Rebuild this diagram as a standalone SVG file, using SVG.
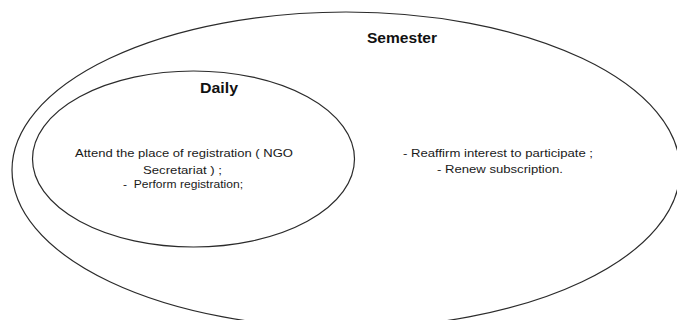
<svg xmlns="http://www.w3.org/2000/svg" width="677" height="320" viewBox="0 0 677 320">
  <style>
    .set { fill: none; stroke: #2b2b2b; stroke-width: 1.2; }
    .title { font-family: "Liberation Sans", Arial, sans-serif; font-weight: bold; font-size: 15px; fill: #111; text-anchor: middle; }
    .body { font-family: "Liberation Sans", Arial, sans-serif; font-size: 11px; fill: #1a1a1a; text-anchor: middle; }
  </style>
  <rect width="677" height="320" fill="#ffffff"/>

  <!-- outer set: semester tasks -->
  <g id="semester">
    <ellipse class="set" cx="346" cy="170" rx="334" ry="158"/>
    <text class="title" x="402" y="43" textLength="70" lengthAdjust="spacingAndGlyphs">Semester</text>
    <text class="body" x="498" y="157" textLength="190" lengthAdjust="spacingAndGlyphs">- Reaffirm interest to participate ;</text>
    <text class="body" x="500" y="173" textLength="126" lengthAdjust="spacingAndGlyphs">- Renew subscription.</text>
  </g>

  <!-- inner set: daily tasks -->
  <g id="daily">
    <ellipse class="set" cx="193.5" cy="159" rx="161" ry="88"/>
    <text class="title" x="219" y="93" textLength="38" lengthAdjust="spacingAndGlyphs">Daily</text>
    <text class="body" x="184" y="157" textLength="218" lengthAdjust="spacingAndGlyphs">Attend the place of registration ( NGO</text>
    <text class="body" x="182.5" y="174" textLength="79" lengthAdjust="spacingAndGlyphs">Secretariat ) ;</text>
    <text class="body" x="183" y="188" textLength="120" lengthAdjust="spacingAndGlyphs">-&#160; Perform registration;</text>
  </g>

  <g id="connectors"/>
</svg>
